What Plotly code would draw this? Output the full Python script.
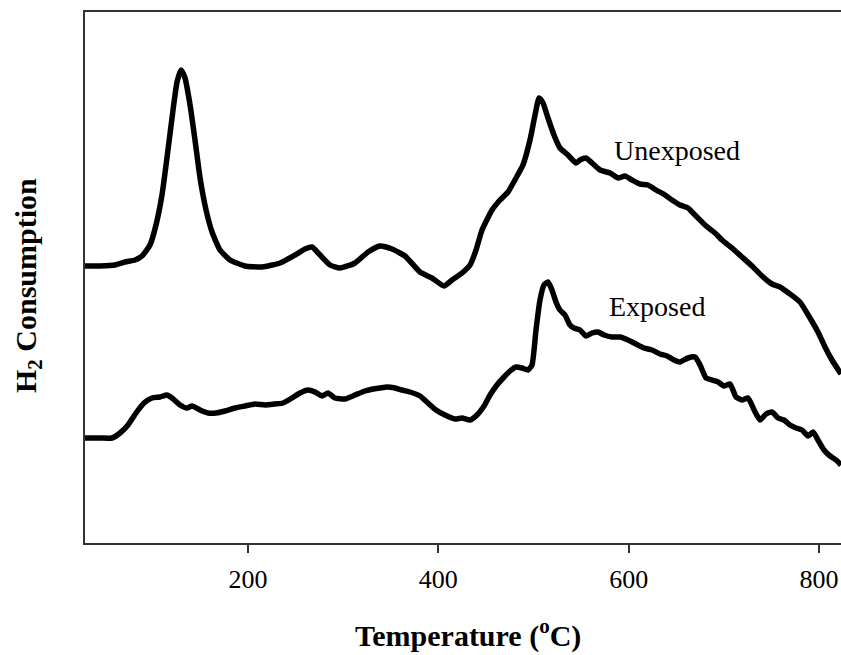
import plotly.graph_objects as go

# Temperature (°C) and H2 consumption (arbitrary units)
unexp_T = [28.7, 44.5, 60.2, 70.8, 81.3, 88.6, 97.0, 103.3, 109.6, 115.9, 121.2, 125.4, 129.6, 133.8,
           139.1, 144.3, 149.6, 155.9, 162.2, 170.6, 181.1, 196.8, 214.7, 233.6, 249.4, 259.9, 267.2,
           275.7, 286.2, 296.7, 312.4, 326.1, 338.7, 351.3, 365.0, 380.7, 393.3, 405.9, 414.4, 424.9,
           433.3, 439.6, 445.9, 456.4, 464.8, 473.2, 481.6, 488.9, 496.3, 501.6, 505.8, 510.0, 515.2,
           521.5, 527.8, 536.2, 544.6, 548.8, 555.1, 561.5, 569.9, 580.4, 588.8, 596.1, 603.5, 611.9,
           620.3, 628.7, 638.2, 645.5, 653.9, 662.3, 670.7, 680.2, 690.7, 698.0, 708.5, 719.1, 729.6,
           740.1, 750.6, 759.0, 769.5, 780.0, 790.5, 798.9, 806.3, 813.6, 823.1]
unexp_S = [277, 277, 278, 281, 283, 287, 298, 318, 348, 393, 433, 461, 473, 465,
           438, 403, 365, 333, 311, 293, 283, 277, 276, 280, 288, 294, 296,
           288, 278, 275, 280, 291, 297, 294, 287, 271, 265, 257, 263, 270,
           278, 293, 313, 333, 343, 351, 365, 378, 403, 428, 445, 440, 425,
           408, 395, 388, 380, 383, 385, 380, 373, 370, 365, 367, 363, 359,
           358, 353, 348, 343, 338, 335, 327, 318, 310, 303, 295, 286, 277,
           267, 259, 256, 249, 241, 225, 211, 196, 183, 169]

exp_T = [28.7, 44.5, 57.1, 65.5, 73.9, 82.3, 90.7, 99.1, 107.5, 114.9, 120.1, 128.5, 135.9, 141.2,
         149.6, 158.0, 166.4, 175.8, 186.3, 196.8, 207.4, 217.9, 228.4, 236.8, 246.2, 254.6, 263.0,
         270.4, 277.8, 284.1, 291.4, 301.9, 312.4, 322.9, 331.3, 338.7, 346.1, 354.5, 361.8, 370.2,
         380.7, 389.1, 397.5, 407.0, 417.5, 424.9, 433.3, 440.6, 448.0, 454.3, 461.6, 469.0, 475.3,
         481.6, 487.9, 494.2, 498.4, 502.6, 506.8, 511.0, 515.2, 519.4, 523.6, 527.8, 533.1, 538.3,
         542.5, 548.8, 555.1, 561.5, 567.8, 574.1, 582.5, 590.9, 599.3, 607.7, 616.1, 624.5, 632.9,
         640.3, 647.6, 653.9, 662.3, 669.7, 675.0, 681.3, 687.6, 693.9, 700.2, 706.5, 712.8, 719.1,
         725.5, 731.8, 738.0, 744.4, 750.6, 756.9, 763.2, 769.5, 775.8, 782.1, 788.5, 793.7, 798.9,
         805.2, 811.6, 817.9, 823.1]
exp_S = [105, 105, 105, 110, 118, 130, 140, 145, 146, 148, 145, 138, 135, 137,
         133, 130, 130, 132, 135, 137, 139, 138, 139, 140, 145, 150, 153,
         151, 147, 150, 145, 144, 148, 152, 154, 155, 156, 155, 153, 151,
         147, 140, 133, 128, 124, 125, 123, 128, 137, 148, 158, 166, 172,
         176, 175, 173, 178, 213, 243, 258, 261, 253, 241, 233, 228, 218,
         215, 213, 207, 210, 211, 208, 206, 206, 203, 199, 195, 193, 189,
         187, 183, 181, 185, 186, 178, 165, 163, 161, 157, 159, 146, 143,
         145, 133, 123, 129, 131, 125, 123, 118, 115, 113, 107, 111, 103,
         93, 87, 83, 78]

x_ticks = [200, 400, 600, 800]

serif = "Liberation Serif, Times New Roman, serif"

fig = go.Figure()
fig.add_trace(go.Scatter(x=unexp_T, y=unexp_S, mode="lines", name="Unexposed",
                         line=dict(color="black", width=5.5, shape="spline", smoothing=0.5)))
fig.add_trace(go.Scatter(x=exp_T, y=exp_S, mode="lines", name="Exposed",
                         line=dict(color="black", width=5.5, shape="spline", smoothing=0.5)))

fig.add_annotation(x=582.5, y=393, text="Unexposed", showarrow=False, xanchor="left", yanchor="middle",
                   font=dict(family=serif, size=28, color="black"))
fig.add_annotation(x=577.2, y=237, text="Exposed", showarrow=False, xanchor="left", yanchor="middle",
                   font=dict(family=serif, size=28, color="black"))

fig.add_annotation(xref="paper", yref="paper", x=0.507, y=0, yshift=-90, showarrow=False,
                   text="<b>Temperature (<sup>o</sup>C)</b>", xanchor="center", yanchor="middle",
                   font=dict(family=serif, size=30, color="black"))
fig.add_annotation(xref="paper", yref="paper", x=0, xshift=-57, y=0.484, showarrow=False,
                   text="<b>H<sub>2</sub> Consumption</b>", textangle=-90, xanchor="center", yanchor="middle",
                   font=dict(family=serif, size=30, color="black"))

fig.update_layout(
    width=841, height=655,
    margin=dict(l=85, r=0, t=12, b=112),
    paper_bgcolor="white", plot_bgcolor="white",
    showlegend=False,
    xaxis=dict(range=[28.7, 823.1], tickvals=x_ticks, ticks="outside", ticklen=8, tickwidth=1.5,
               tickcolor="#333", showline=True, linecolor="#333", linewidth=1.5, mirror=True,
               showgrid=False, zeroline=False, ticklabelstandoff=4,
               tickfont=dict(family=serif, size=26, color="black")),
    yaxis=dict(range=[0, 531], showticklabels=False, ticks="", showline=True, linecolor="#333",
               linewidth=1.5, mirror=False, showgrid=False, zeroline=False),
)

fig.write_html("out.html")
